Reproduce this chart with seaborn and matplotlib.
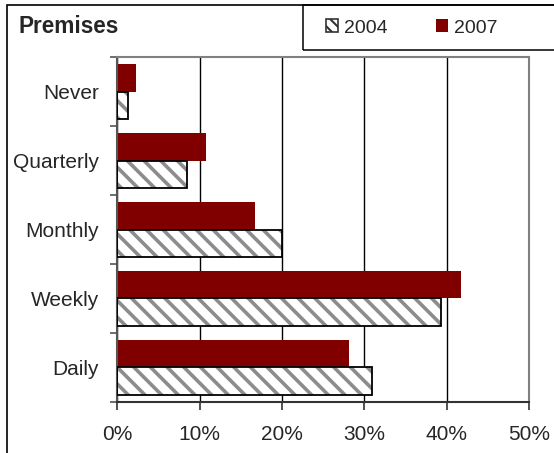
import numpy as np
import pandas as pd
import matplotlib
matplotlib.use("Agg")
import matplotlib.pyplot as plt
import seaborn as sns
from matplotlib.patches import Rectangle, Patch
from matplotlib.ticker import FixedLocator

# ---- data ----
categories = ["Never", "Quarterly", "Monthly", "Weekly", "Daily"]
years = ["2004", "2007"]
values_2004 = [1.3, 8.5, 20.0, 39.3, 30.9]
values_2007 = [2.3, 10.8, 16.7, 41.7, 28.1]
x_ticks = [0, 10, 20, 30, 40, 50]
x_tick_labels = ["0%", "10%", "20%", "30%", "40%", "50%"]
title = "Premises"

sns.set_style("white")
plt.rcParams["font.family"] = ["Liberation Sans", "DejaVu Sans"]
plt.rcParams["hatch.linewidth"] = 2.6
plt.rcParams["hatch.color"] = "#8c8c8c"

df = pd.DataFrame({
    "category": categories * 2,
    "year": ["2007"] * len(categories) + ["2004"] * len(categories),
    "value": values_2007 + values_2004,
})

W, H = 554, 453
fig = plt.figure(figsize=(W / 100, H / 100), dpi=100)
left, right, top, bottom = 117.3, 529.3, 57.3, 401.7
ax = fig.add_axes([left / W, 1 - bottom / H, (right - left) / W, (bottom - top) / H])

sns.barplot(data=df, y="category", x="value", hue="year", hue_order=["2007", "2004"],
            order=categories, palette={"2007": "#800000", "2004": "white"},
            width=0.8, saturation=1, linewidth=0, legend=False, ax=ax, zorder=2)

# style 2004 bars: hatched with black border
for p in ax.containers[1]:
    p.set_hatch("\\\\")
    p.set_edgecolor("#8c8c8c")
    p.set_linewidth(0)
    ax.add_patch(Rectangle((p.get_x(), p.get_y()), p.get_width(), p.get_height(),
                           fill=False, edgecolor="black", linewidth=1.3, zorder=3))

ax.set_xlim(0, 50)
ax.set_ylim(len(categories) - 0.5, -0.5)
ax.set_xticks(x_ticks)
ax.set_xticklabels(x_tick_labels, fontsize=15)
ax.set_xlabel("")
ax.set_ylabel("")

# y: ticks at category boundaries, labels at centers
ax.yaxis.set_major_locator(FixedLocator(np.arange(-0.5, len(categories), 1.0)))
ax.set_yticklabels([])
ax.yaxis.set_minor_locator(FixedLocator(np.arange(len(categories))))
ax.set_yticklabels(categories, minor=True, fontsize=15)
ax.tick_params(axis="y", which="major", length=5, width=1.2, color="#555555", direction="out", left=True)
ax.tick_params(axis="y", which="minor", length=0, pad=13)
ax.tick_params(axis="x", which="major", length=6, width=1.2, color="#333333", direction="out",
               bottom=True, pad=11)

ax.set_axisbelow(True)
ax.grid(axis="x", color="black", linewidth=1.0)
ax.grid(axis="y", visible=False)

for s in ["top", "right"]:
    ax.spines[s].set_color("#808080")
    ax.spines[s].set_linewidth(1.5)
ax.spines["left"].set_color("#555555")
ax.spines["left"].set_linewidth(1.5)
ax.spines["bottom"].set_color("#333333")
ax.spines["bottom"].set_linewidth(1.5)

# figure frame (top and left lines)
fig.add_artist(Rectangle((7 / W, -0.2), 2.0, 1.2 - 5 / H, transform=fig.transFigure,
                         fill=False, edgecolor="black", linewidth=1.2, clip_on=False))
# legend box
fig.add_artist(Rectangle((303 / W, 1 - 50 / H), 1.0, 45 / H, transform=fig.transFigure,
                         fill=False, edgecolor="black", linewidth=1.1, clip_on=False))

fig.text(18 / W, 1 - 26.5 / H, title, fontsize=16.3, fontweight="bold", va="center", ha="left")

plt.rcParams["hatch.linewidth"] = 1.5
handles = [
    Patch(facecolor="white", edgecolor="#333333", hatch="\\\\\\", linewidth=1.2, label="2004"),
    Patch(facecolor="#800000", edgecolor="#800000", linewidth=0, label="2007"),
]
fig.legend(handles=handles, labels=years, ncol=2, frameon=False, fontsize=14,
           loc="center left", bbox_to_anchor=(326 / W, 1 - 28 / H),
           handlelength=0.62, handleheight=0.62, handletextpad=0.3,
           columnspacing=2.5, borderpad=0, borderaxespad=0)

fig.savefig("out.png", dpi=100)
